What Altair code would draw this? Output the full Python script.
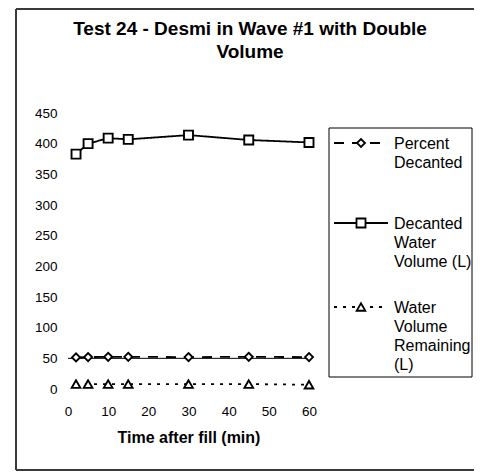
import altair as alt
import pandas as pd

# ---- data ----
times = [2, 5, 10, 15, 30, 45, 60]
percent_decanted = [51.5, 52, 52.5, 52.5, 52, 52.5, 52]
decanted_volume = [383, 400, 409, 407, 414, 406, 402]
volume_remaining = [8, 8, 8, 8, 8, 8, 7]

series_names = ["Percent Decanted", "Decanted Water Volume (L)", "Water Volume Remaining (L)"]
legend_labels = ["Percent\nDecanted", "Decanted\nWater\nVolume (L)", "Water\nVolume\nRemaining\n(L)"]
title_lines = ["Test 24 - Desmi in Wave #1 with Double", "Volume"]
x_title = "Time after fill (min)"
y_ticks = [0, 50, 100, 150, 200, 250, 300, 350, 400, 450]
x_ticks = [0, 10, 20, 30, 40, 50, 60]
axis_cross = 50

FONT = "Liberation Sans"

rows = []
for name, vals in zip(series_names, [percent_decanted, decanted_volume, volume_remaining]):
    for t, v in zip(times, vals):
        rows.append({"series": name, "time": t, "value": v})
df = pd.DataFrame(rows)
legend_df = pd.DataFrame({"series": series_names, "label": legend_labels})
title_df = pd.DataFrame({"line": [0, 1], "text": title_lines})

styles = {
    "Percent Decanted": dict(dash=[10, 8], shape="diamond", size=64),
    "Decanted Water Volume (L)": dict(dash=[1, 0], shape="square", size=81),
    "Water Volume Remaining (L)": dict(dash=[3, 6], shape="triangle-up", size=75),
}

xscale = alt.Scale(domain=[0, 60], nice=False, zero=False)
yscale = alt.Scale(domain=[0, 450], nice=False)

x_axis = alt.Axis(values=x_ticks, title=x_title, grid=False, domain=False, ticks=False,
                  labelOverlap=False, labelFlush=False, labelBound=False,
                  labelPadding=15, labelFontSize=13.5, labelFont=FONT, labelColor="black",
                  titleFont=FONT, titleFontSize=16, titleFontWeight="bold", titleColor="black",
                  titlePadding=12)
y_axis = alt.Axis(values=y_ticks, title=None, grid=False, domain=False, ticks=False,
                  labelOverlap=False, labelFlush=False, labelBound=False,
                  labelPadding=11, labelFontSize=13.5, labelFont=FONT, labelColor="black")

base = alt.Chart(df)
x_enc = alt.X("time:Q", scale=xscale, axis=x_axis)
y_enc = alt.Y("value:Q", scale=yscale, axis=y_axis)

layers = []
for name in series_names:
    st = styles[name]
    f = base.transform_filter(alt.datum.series == name)
    layers.append(f.mark_line(color="black", strokeWidth=1.8, strokeDash=st["dash"]).encode(x=x_enc, y=y_enc))

# horizontal axis line crossing at 50
layers.append(alt.Chart(pd.DataFrame({"c": [axis_cross]})).mark_rule(color="black", strokeWidth=1).encode(
    x=alt.datum(0), x2=alt.datum(60), y=alt.Y("c:Q", axis=y_axis)))

for name in series_names:
    st = styles[name]
    f = base.transform_filter(alt.datum.series == name)
    layers.append(f.mark_point(shape=st["shape"], size=st["size"], filled=True, fill="white",
                               stroke="black", strokeWidth=1.9, opacity=1).encode(x=x_enc, y=y_enc))

# frame (left, top, bottom edges; right edge is off-picture)
frame_color = "#3a3a3a"
fr = alt.Chart(pd.DataFrame({"a": [0]}))
layers.append(fr.mark_rule(color=frame_color, strokeWidth=2).encode(
    x=alt.value(-52), y=alt.value(-104), y2=alt.value(357)))
layers.append(fr.mark_rule(color=frame_color, strokeWidth=2).encode(
    x=alt.value(-52), x2=alt.value(410), y=alt.value(-104)))
layers.append(fr.mark_rule(color=frame_color, strokeWidth=2).encode(
    x=alt.value(-52), x2=alt.value(410), y=alt.value(357)))

# title
for i, yy in enumerate([-84.5, -61.5]):
    layers.append(alt.Chart(title_df).transform_filter(alt.datum.line == i).mark_text(
        font=FONT, fontSize=19, fontWeight="bold", color="black", align="center", baseline="middle").encode(
        x=alt.value(182), y=alt.value(yy), text="text:N"))

# legend box
layers.append(fr.mark_rect(fill="white", stroke="black", strokeWidth=1).encode(
    x=alt.value(261), x2=alt.value(404), y=alt.value(15), y2=alt.value(264)))
legend_y = [30, 110, 194]
for name, yc in zip(series_names, legend_y):
    st = styles[name]
    lf = alt.Chart(legend_df).transform_filter(alt.datum.series == name)
    layers.append(lf.mark_rule(color="black", strokeWidth=1.8, strokeDash=st["dash"]).encode(
        x=alt.value(266), x2=alt.value(320), y=alt.value(yc)))
    layers.append(lf.mark_point(shape=st["shape"], size=st["size"], filled=True, fill="white",
                                stroke="black", strokeWidth=1.8, opacity=1).encode(
        x=alt.value(293), y=alt.value(yc)))
    layers.append(lf.mark_text(font=FONT, fontSize=16, color="black", align="left", baseline="top",
                               lineBreak="\n", lineHeight=19).encode(
        x=alt.value(326), y=alt.value(yc - 7.5), text="label:N"))

chart = alt.layer(*layers).properties(
    width=241, height=276,
    autosize="none",
    background="white",
    padding={"left": 60, "top": 105, "right": 165, "bottom": 82},
).configure_view(stroke=None)

chart.save("out.html", embed_options={"renderer": "svg", "actions": False})
